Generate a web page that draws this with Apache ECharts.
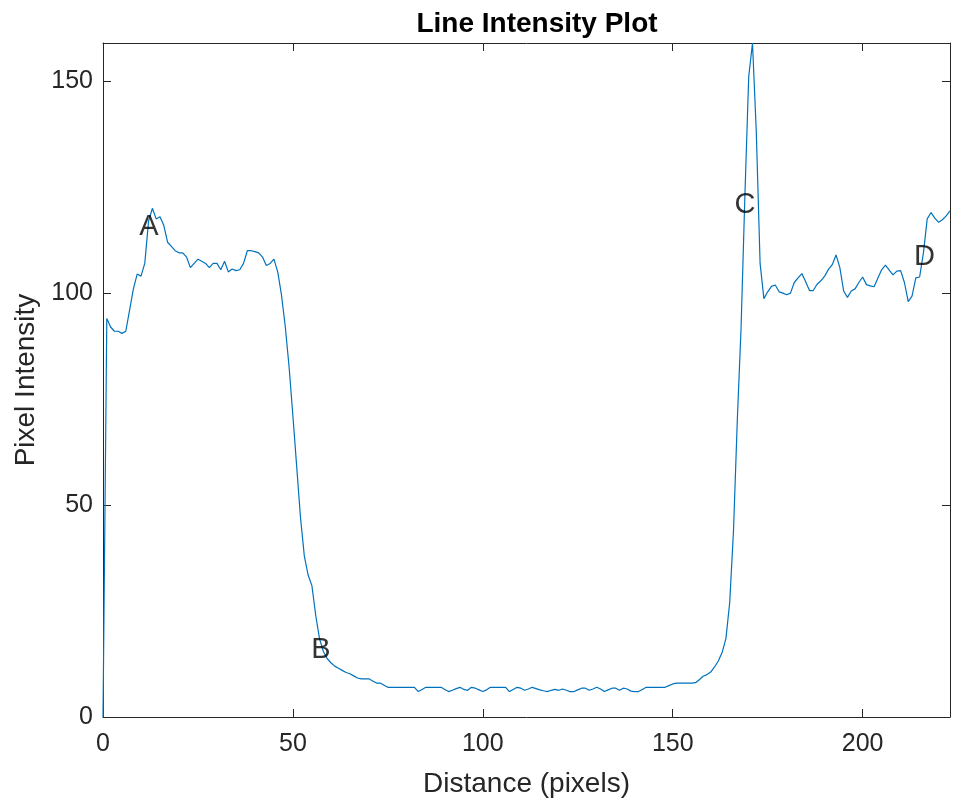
<!DOCTYPE html>
<html>
<head>
<meta charset="utf-8">
<script src="https://cdn.jsdelivr.net/npm/echarts@6/dist/echarts.min.js"></script>
<style>
html,body{margin:0;padding:0;background:#fff;}
#chart{width:953px;height:805px;}
</style>
</head>
<body>
<div id="chart"></div>
<script>
// Pixel intensity sampled at distance 0,1,2,... (pixels)
const intensity = [
  0, 94, 92, 91, 91, 90.5, 91, 96, 101, 104.5,
  104, 107, 117, 120, 117.5, 118, 116, 112, 111, 110,
  109.5, 109.5, 108.5, 106, 107, 108, 107.5, 107, 106, 107,
  107, 105.5, 107.5, 105, 105.7, 105.3, 105.5, 107, 110, 110,
  109.8, 109.5, 108.5, 106.5, 107, 108, 105, 99.5, 92, 82.5,
  71, 59, 47, 38, 33.5, 31, 24, 18.5, 15.5, 13.8,
  12.8, 12, 11.5, 11, 10.5, 10.2, 9.7, 9.2, 9, 9,
  9, 8.5, 8, 8, 7.5, 7, 7, 7, 7, 7,
  7, 7, 7, 6, 6.5, 7, 7, 7, 7, 7,
  6.5, 6, 6.3, 6.7, 7, 6.5, 6.3, 7, 6.8, 6.4,
  6, 6.4, 7, 7, 7, 7, 7, 6, 6.5, 7,
  6.8, 6.3, 6.6, 7, 6.7, 6.4, 6.2, 6, 6.3, 6.5,
  6.3, 6.6, 6.3, 6, 6, 6.4, 6.8, 6.8, 6.3, 6.6,
  7, 6.6, 6, 6.4, 6.8, 6.8, 6.3, 6.8, 6.6, 6.1,
  6, 6, 6.5, 7, 7, 7, 7, 7, 7, 7.4,
  7.8, 8, 8, 8, 8, 8, 8.1, 8.8, 9.6, 10,
  10.6, 11.8, 13.2, 15.2, 18.5, 27, 44, 70, 92, 123,
  151, 159, 138, 107, 98.7, 100.3, 101.6, 101.9, 100.3, 100,
  99.6, 100, 102.5, 103.6, 104.6, 102.7, 100.6, 100.6, 102.1, 102.9,
  104, 105.6, 106.7, 109, 106, 100.5, 99, 100.5, 101, 102.5,
  103.8, 102, 101.7, 101.5, 103.5, 105.5, 106.6, 105.4, 104.3, 105.2,
  105.3, 102.5, 98, 99.3, 103.6, 103.8, 109.5, 117.5, 119, 117.7,
  116.7, 117.3, 118.2, 119.4
];

// Text annotations (letter, distance, intensity)
const annotationText = ['A', 'B', 'C', 'D'];
const annotationX = [12.1, 57.4, 169, 216.3];
const annotationY = [115.6, 15.8, 120.8, 108.5];

const xTicks = [0, 50, 100, 150, 200];
const yTicks = [0, 50, 100, 150];
const xMax = 223;
const yMax = 159;

const titleText = 'Line Intensity Plot';
const xName = 'Distance (pixels)';
const yName = 'Pixel Intensity';

const lineData = intensity.map((v, i) => [i, v]);
const labelData = annotationText.map((t, i) => ({ value: [annotationX[i], annotationY[i]], name: t }));

const axisColor = '#262626';
const fontFam = '"Liberation Sans", Arial, Helvetica, sans-serif';

const chart = echarts.init(document.getElementById('chart'), null, { renderer: 'canvas' });

function baseX(extra) {
  return Object.assign({
    type: 'value', min: 0, max: xMax, interval: 50,
    axisLine: { show: true, onZero: false, lineStyle: { color: axisColor, width: 1 } },
    axisTick: { show: true, inside: true, length: 8, lineStyle: { color: axisColor, width: 1 } },
    splitLine: { show: false }
  }, extra);
}
function baseY(extra) {
  return Object.assign({
    type: 'value', min: 0, max: yMax, interval: 50,
    axisLine: { show: true, onZero: false, lineStyle: { color: axisColor, width: 1 } },
    axisTick: { show: true, inside: true, length: 8, lineStyle: { color: axisColor, width: 1 } },
    splitLine: { show: false }
  }, extra);
}

chart.setOption({
  animation: false,
  backgroundColor: '#ffffff',
  title: {
    text: titleText,
    left: 532, top: 5, textAlign: 'center',
    textStyle: { fontFamily: fontFam, fontWeight: 'bold', fontSize: 28, color: '#000000' }
  },
  grid: { left: 103, right: 2, top: 43, bottom: 88, containLabel: false },
  xAxis: [
    baseX({
      position: 'bottom',
      name: xName, nameLocation: 'middle', nameGap: 53,
      nameTextStyle: { fontFamily: fontFam, fontSize: 28, color: axisColor },
      axisLabel: {
        show: true, margin: 15, fontFamily: fontFam, fontSize: 25, color: axisColor,
        formatter: v => (xTicks.indexOf(v) >= 0 ? String(v) : '')
      }
    }),
    baseX({ position: 'top', axisLabel: { show: false } })
  ],
  yAxis: [
    baseY({
      position: 'left',
      name: yName, nameLocation: 'middle', nameGap: 58,
      nameTextStyle: { fontFamily: fontFam, fontSize: 28, color: axisColor },
      axisLabel: {
        show: true, margin: 10, fontFamily: fontFam, fontSize: 25, color: axisColor,
        formatter: v => (yTicks.indexOf(v) >= 0 ? String(v) : '')
      }
    }),
    baseY({ position: 'right', axisLabel: { show: false } })
  ],
  series: [
    {
      type: 'line',
      xAxisIndex: 0, yAxisIndex: 0,
      data: lineData,
      showSymbol: false,
      symbol: 'none',
      lineStyle: { color: '#0072BD', width: 1.2 },
      clip: true
    },
    {
      type: 'scatter',
      xAxisIndex: 0, yAxisIndex: 0,
      data: labelData,
      symbolSize: 0,
      label: {
        show: true, position: 'inside',
        formatter: p => p.name,
        fontFamily: fontFam, fontSize: 29, color: '#000000'
      },
      z: 5
    }
  ]
});
</script>
</body>
</html>
